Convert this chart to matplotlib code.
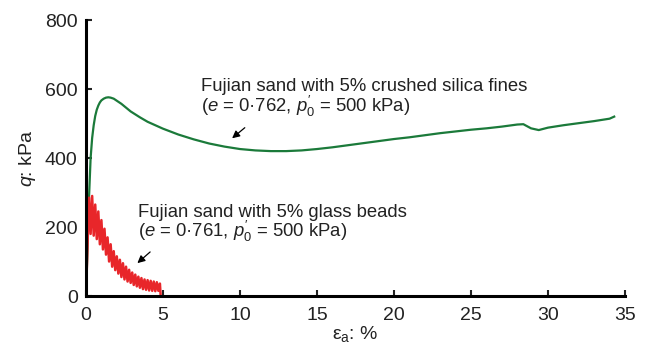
import matplotlib
matplotlib.use("Agg")
import matplotlib.pyplot as plt

plt.rcParams["font.family"] = ["Liberation Sans", "DejaVu Sans"]
plt.rcParams["mathtext.fontset"] = "custom"
plt.rcParams["mathtext.rm"] = "Liberation Sans"
plt.rcParams["mathtext.it"] = "Liberation Sans:italic"

# Fujian sand with 5% crushed silica fines
silica_strain = [0, 0.1, 0.2, 0.3, 0.4, 0.5, 0.6, 0.7, 0.8, 0.9, 1.0, 1.15, 1.3, 1.45,
                 1.6, 1.8, 2.0, 2.3, 2.6, 2.9, 3.5, 4.0,
                 5.0, 6.0, 7.0, 8.0, 9.0, 10, 11, 12, 13, 14, 15, 16, 17, 18, 19, 20,
                 21, 22, 23, 24, 25, 26, 27, 28, 28.4, 28.9, 29.4, 30, 31, 32, 33, 34, 34.3]
silica_q = [0, 140, 290, 400, 458, 495, 522, 540, 552, 561, 567, 572, 575, 576,
            575, 572, 566, 557, 546, 535, 518, 505,
            485, 468, 454, 442, 433, 426, 422, 420, 420, 422, 426, 431, 437, 443, 449, 455,
            460, 466, 472, 477, 482, 486, 491, 497, 498, 486, 481, 488, 495, 501, 507, 514, 520]

# Fujian sand with 5% glass beads (stick-slip)
beads_strain = [0, 0.1, 0.2, 0.3, 0.4, 0.5, 0.6, 0.7, 0.8, 0.9, 1.0, 1.1, 1.2, 1.3, 1.4,
                1.5, 1.6, 1.7, 1.8, 1.9, 2.0, 2.1, 2.2, 2.3, 2.4, 2.5, 2.6, 2.7, 2.8, 2.9,
                3.0, 3.1, 3.2, 3.3, 3.4, 3.5, 3.6, 3.7, 3.8, 3.9, 4.0, 4.1, 4.2, 4.3, 4.4,
                4.5, 4.6, 4.7, 4.8, 4.85]
beads_q = [0, 150, 285, 180, 290, 175, 265, 165, 245, 150, 220, 135, 195, 120, 170,
           100, 150, 85, 130, 75, 115, 65, 105, 55, 95, 48, 85, 42, 76, 38,
           68, 32, 62, 28, 56, 24, 52, 20, 48, 18, 46, 16, 44, 15, 42,
           14, 40, 15, 36, 0]

C_SILICA, C_BEADS = "#1b7a3a", "#e8262a"

fig = plt.figure(figsize=(6.49, 3.45), dpi=100)
ax = fig.add_axes([0.1325, 0.142, 0.8305, 0.800])

ax.plot(silica_strain, silica_q, color=C_SILICA, lw=1.6)
ax.plot(beads_strain, beads_q, color=C_BEADS, lw=1.8)

ax.set_xlim(0, 35)
ax.set_ylim(0, 800)
ax.set_xticks(range(0, 36, 5))
ax.set_yticks(range(0, 801, 200))
for s in ("top", "right"):
    ax.spines[s].set_visible(False)
for s in ("left", "bottom"):
    ax.spines[s].set_linewidth(2.2)
ax.tick_params(direction="in", length=4, width=1.5, labelsize=14, colors="#222222")
ax.tick_params(axis="x", pad=8)
ax.tick_params(axis="y", pad=6)
ax.set_xlabel(r"ε$_\mathregular{a}$: %", fontsize=14, color="#222222", labelpad=0)
ax.set_ylabel(r"$q$: kPa", fontsize=14, color="#222222", labelpad=5)

ann = dict(fontsize=13.3, va="center", ha="left", color="#222222")
arrow = dict(arrowstyle="-|>", color="black", lw=0.9, mutation_scale=11)
ax.text(7.5, 606, "Fujian sand with 5% crushed silica fines", **ann)
ax.text(7.5, 550, r"($e$ = 0·762, $p^{\prime}_{0}$ = 500 kPa)", **ann)
ax.annotate("", xy=(9.35, 452), xytext=(10.45, 493), arrowprops=arrow)

ax.text(3.4, 243, "Fujian sand with 5% glass beads", **ann)
ax.text(3.4, 187, r"($e$ = 0·761, $p^{\prime}_{0}$ = 500 kPa)", **ann)
ax.annotate("", xy=(3.2, 90), xytext=(4.3, 133), arrowprops=arrow)

fig.savefig("out.png", dpi=100)
